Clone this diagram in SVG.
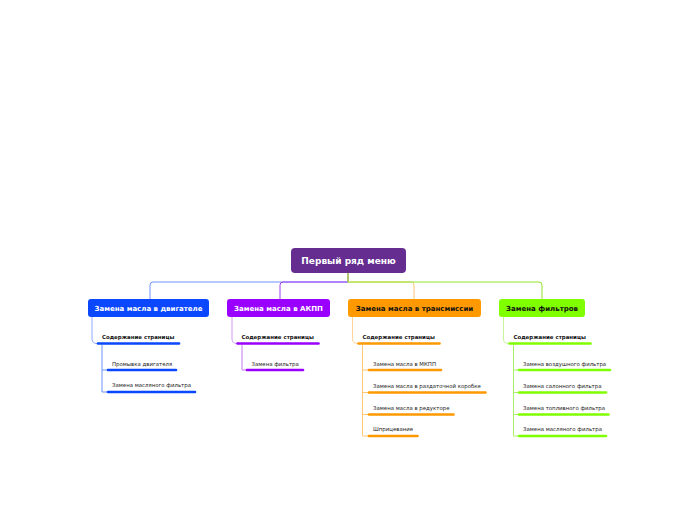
<svg xmlns="http://www.w3.org/2000/svg" width="696" height="520" viewBox="0 0 696 520">
<style>
text{font-family:"DejaVu Sans","Verdana",sans-serif}
.main{font-size:7px;font-weight:bold;text-anchor:middle}
.sub{font-size:5.45px;font-weight:bold;fill:#111}
.leaf{font-size:5.4px;fill:#222}
.c{fill:none;stroke-width:1}
.bar{stroke-width:2.6;stroke-linecap:round}
</style>
<rect width="696" height="520" fill="#fff"/>
<g id="connectors">
<path class="c" stroke="#6f93ff" d="M348,273 V282 H153 Q150,282 150,285 V299"/>
<path class="c" stroke="#a33df5" d="M348,273 V282 H283 Q280,282 280,285 V299"/>
<path class="c" stroke="#ffc675" d="M348,273 V282 H411 Q414,282 414,285 V299"/>
<path class="c" stroke="#8ee62a" d="M348,273 V282 H539 Q542,282 542,285 V299"/>
<path class="c" stroke="#8fa8ff" d="M92,317 V339 Q92,343.5 97,343.5"/>
<path class="c" stroke="#6f93ff" d="M102,345 V392 H107 M102,370 H107"/>
<path class="c" stroke="#d29cf8" d="M232,317 V339 Q232,343.5 237,343.5"/>
<path class="c" stroke="#c07af5" d="M242,345 V370 H246"/>
<path class="c" stroke="#ffd399" d="M352.5,317 V339 Q352.5,343.5 357.5,343.5"/>
<path class="c" stroke="#ffc675" d="M362.5,345 V436 H368 M362.5,370 H368 M362.5,392.5 H368 M362.5,414.5 H368"/>
<path class="c" stroke="#c5f59a" d="M503.5,317 V339 Q503.5,343.5 508.5,343.5"/>
<path class="c" stroke="#aaf06a" d="M513.5,345 V436 H518 M513.5,370 H518 M513.5,392.5 H518 M513.5,414.5 H518"/>
</g>
<g id="root">
<rect x="291" y="248" width="115" height="25" rx="4" fill="#652d90"/>
<text x="348.5" y="264" font-size="9" font-weight="bold" fill="#fff" text-anchor="middle">Первый ряд меню</text>
</g>
<g id="n1">
<rect x="88" y="299" width="121" height="18" rx="3" fill="#0a47ff"/>
<text class="main" x="148.5" y="310.5" fill="#fff">Замена масла в двигателе</text>
</g>
<g id="n1s">
<text class="sub" x="102" y="339">Содержание страницы</text>
<line class="bar" x1="98" y1="343.5" x2="179" y2="343.5" stroke="#0a47ff"/>
</g>
<g id="n1a">
<text class="leaf" x="112" y="365.5">Промывка двигателя</text>
<line class="bar" x1="108" y1="370" x2="176" y2="370" stroke="#0a47ff"/>
</g>
<g id="n1b">
<text class="leaf" x="112" y="387">Замена масляного фильтра</text>
<line class="bar" x1="108" y1="392" x2="195" y2="392" stroke="#0a47ff"/>
</g>
<g id="n2">
<rect x="227" y="299" width="103" height="18" rx="3" fill="#9a00ff"/>
<text class="main" x="278.5" y="310.5" fill="#fff">Замена масла в АКПП</text>
</g>
<g id="n2s">
<text class="sub" x="241.5" y="339">Содержание страницы</text>
<line class="bar" x1="237.5" y1="343.5" x2="318.5" y2="343.5" stroke="#9a00ff"/>
</g>
<g id="n2a">
<text class="leaf" x="251.5" y="365.5">Замена фильтра</text>
<line class="bar" x1="247" y1="370" x2="303" y2="370" stroke="#9a00ff"/>
</g>
<g id="n3">
<rect x="348" y="299" width="133" height="18" rx="3" fill="#ff9900"/>
<text class="main" x="414.5" y="310.5" fill="#111">Замена масла в трансмиссии</text>
</g>
<g id="n3s">
<text class="sub" x="362.5" y="339">Содержание страницы</text>
<line class="bar" x1="358.5" y1="343.5" x2="439.5" y2="343.5" stroke="#ff9900"/>
</g>
<g id="n3a">
<text class="leaf" x="373" y="365.5">Замена масла в МКПП</text>
<line class="bar" x1="369" y1="370" x2="441" y2="370" stroke="#ff9900"/>
</g>
<g id="n3b">
<text class="leaf" x="373" y="387.5">Замена масла в раздаточной коробке</text>
<line class="bar" x1="369" y1="392.5" x2="485.5" y2="392.5" stroke="#ff9900"/>
</g>
<g id="n3c">
<text class="leaf" x="373" y="409.5">Замена масла в редукторе</text>
<line class="bar" x1="369" y1="414.5" x2="453.5" y2="414.5" stroke="#ff9900"/>
</g>
<g id="n3d">
<text class="leaf" x="373" y="431">Шприцевание</text>
<line class="bar" x1="369" y1="436" x2="417.5" y2="436" stroke="#ff9900"/>
</g>
<g id="n4">
<rect x="499" y="299" width="86" height="18" rx="3" fill="#80ff00"/>
<text class="main" x="542" y="310.5" fill="#111">Замена фильтров</text>
</g>
<g id="n4s">
<text class="sub" x="513.5" y="339">Содержание страницы</text>
<line class="bar" x1="509.5" y1="343.5" x2="590.5" y2="343.5" stroke="#80ff00"/>
</g>
<g id="n4a">
<text class="leaf" x="523" y="365.5">Замена воздушного фильтра</text>
<line class="bar" x1="519" y1="370" x2="610" y2="370" stroke="#80ff00"/>
</g>
<g id="n4b">
<text class="leaf" x="523" y="387.5">Замена салонного фильтра</text>
<line class="bar" x1="519" y1="392.5" x2="606" y2="392.5" stroke="#80ff00"/>
</g>
<g id="n4c">
<text class="leaf" x="523" y="409.5">Замена топливного фильтра</text>
<line class="bar" x1="519" y1="414.5" x2="608.5" y2="414.5" stroke="#80ff00"/>
</g>
<g id="n4d">
<text class="leaf" x="523" y="431">Замена масляного фильтра</text>
<line class="bar" x1="519" y1="436" x2="606" y2="436" stroke="#80ff00"/>
</g>
</svg>
